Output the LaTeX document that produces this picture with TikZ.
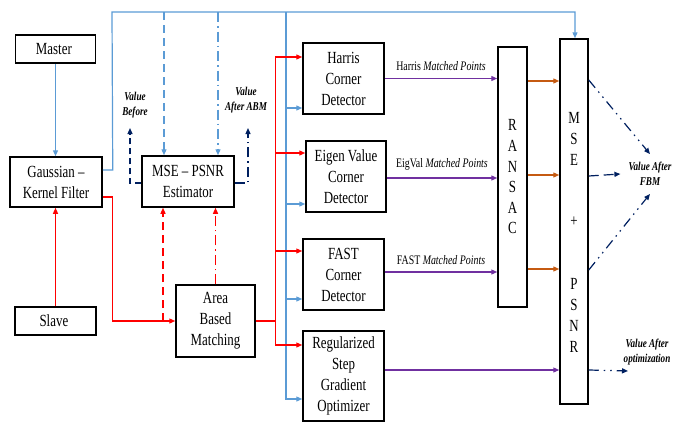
\documentclass[tikz,border=0pt]{standalone}
\usepackage{fontspec}
\setmainfont{Liberation Serif}[FakeStretch=0.76]
\usetikzlibrary{arrows.meta}
\definecolor{lblue}{RGB}{91,155,213}
\definecolor{navy}{RGB}{0,32,96}
\definecolor{purp}{RGB}{112,48,160}
\definecolor{orng}{RGB}{197,90,17}

\begin{document}
\begin{tikzpicture}[x=1pt, y=-1pt,
    >={Triangle[length=6pt,width=5pt]},
    box/.style={
        rectangle,
        draw,
        line width=1.5pt,
        align=center,
        inner sep=0pt,
        fill=white,
        font=\fontsize{17}{21}\selectfont
    },
    lbl/.style={align=center, inner sep=1pt, font=\fontsize{12}{15}\selectfont\bfseries\itshape},
    ptlbl/.style={text=black, inner sep=2pt, font=\fontsize{13}{14}\selectfont},
    wire/.style={line width=1.2pt},
    dashdot/.style={dash pattern=on 10pt off 4pt on 1.5pt off 4pt},
    dashdotdot/.style={dash pattern=on 10pt off 5pt on 1.5pt off 5pt on 1.5pt off 5pt}
]
    \useasboundingbox (0,0) rectangle (673,423);

    \node (master) [box, minimum width=80, minimum height=28, shift={(55.5,49)}]
    {
        Master
    };
    \node (gauss) [box, minimum width=92, minimum height=50, shift={(56,182)}]
    {
        Gaussian --\\Kernel Filter
    };
    \node (slave) [box, minimum width=81, minimum height=28, shift={(55.5,321)}]
    {
        Slave
    };
    \node (est) [box, minimum width=92, minimum height=51, shift={(188,181.5)}]
    {
        MSE -- PSNR\\Estimator
    };
    \node (area) [box, minimum width=79, minimum height=72, shift={(215.5,321)}]
    {
        Area\\Based\\Matching
    };

    \node (harris) [box, minimum width=81, minimum height=71, shift={(343.5,78.5)}]
    {
        Harris\\Corner\\Detector
    };
    \node (eigen) [box, minimum width=80, minimum height=71, shift={(346,176.5)}]
    {
        Eigen Value\\Corner\\Detector
    };
    \node (fast) [box, minimum width=81, minimum height=71, shift={(343.5,274.5)}]
    {
        FAST\\Corner\\Detector
    };
    \node (reg) [box, minimum width=81, minimum height=90, shift={(343.5,376)}]
    {
        Regularized\\Step\\Gradient\\Optimizer
    };

    \node (ransac) [box, minimum width=29, minimum height=260, font=\fontsize{17}{20.6}\selectfont, shift={(512.5,177)}]
    {
        R\\A\\N\\S\\A\\C
    };
    \node (mseall) [box, minimum width=28, minimum height=365, shift={(574,221.5)}] {};
    \node (mseall_txt) [align=center, inner sep=0pt, font=\fontsize{17}{21}\selectfont, shift={(574,232)}]
    {
        M\\S\\E\\[40pt]+\\[42pt]P\\S\\N\\R
    };

    \node (vbefore) [lbl, shift={(135,105)}] {Value\\Before};
    \node (vafter) [lbl, shift={(246,100)}] {Value\\After ABM};
    \node (fbm) [lbl, inner sep=8pt, shift={(650,174)}] {Value After\\FBM};
    \node (optim) [lbl, shift={(647,352)}] {Value After\\optimization};

    \coordinate (top) at (112,12);
    \coordinate (bus) at (286,12);
    \coordinate (vbtip) at (130,128);
    \coordinate (vatip) at (248,128);
    \coordinate (optend) at (628,371);

    \draw[->, lblue, wire] (master.south) to (master.south |- gauss.north);
    \draw[->, lblue, wire] ([yshift=12pt]gauss.east) -- ++(10,0) -- (top) -| ([xshift=1pt]mseall.north);
    \draw[->, lblue, wire, dash pattern=on 8pt off 5pt] ([xshift=-24pt]est.north |- top) to ([xshift=-24pt]est.north);
    \draw[->, lblue, wire, dashdot] ([xshift=30pt]est.north |- top) to ([xshift=30pt]est.north);
    \draw[->, lblue, wire] (bus) |- ([yshift=-29.5pt]harris.west);
    \draw[->, lblue, wire] (bus) |- ([yshift=-27.5pt]eigen.west);
    \draw[->, lblue, wire] (bus) |- ([yshift=-24.5pt]fast.west);
    \draw[->, lblue, wire] (bus) |- ([yshift=-23pt]reg.west);

    \draw[->, red, wire] (slave.north) to (slave.north |- gauss.south);
    \draw[->, red, wire] ([yshift=-15pt]gauss.east) -- ++(10,0) |- (area.west);
    \draw[->, red, wire, dash pattern=on 8pt off 5pt] ([xshift=-25pt]est.south |- area.west) to ([xshift=-25pt]est.south);
    \draw[->, red, wire, dashdot] (area.north) to (area.north |- est.south);
    \draw[->, red, wire] (area.east) -- ++(20,0) |- ([yshift=21.5pt]harris.west);
    \draw[->, red, wire] (area.east) -- ++(20,0) |- ([yshift=23.5pt]eigen.west);
    \draw[->, red, wire] (area.east) -- ++(20,0) |- ([yshift=23.5pt]fast.west);
    \draw[->, red, wire] (area.east) -- ++(20,0) |- ([yshift=31pt]reg.west);

    \draw[->, navy, wire, dash pattern=on 6pt off 4pt] ([yshift=-1.5pt]est.west) -| (vbtip);
    \draw[->, navy, wire, dashdot] ([yshift=-1.5pt]est.east) -| (vatip);

    \draw[->, purp, wire] (harris.east) --
        node [ptlbl, above=5pt] {Harris \textit{Matched Points}} (harris.east -| ransac.west);
    \draw[->, purp, wire] ([yshift=-1.5pt]eigen.east) --
        node [ptlbl, above=5pt] {EigVal \textit{Matched Points}} ([yshift=-1.5pt]eigen.east -| ransac.west);
    \draw[->, purp, wire] ([yshift=2.5pt]fast.east) --
        node [ptlbl, above=5pt] {FAST \textit{Matched Points}} ([yshift=2.5pt]fast.east -| ransac.west);
    \draw[->, purp, wire] ([yshift=6pt]reg.east) to ([yshift=6pt]reg.east -| mseall.west);

    \draw[->, orng, wire] ([yshift=96pt]ransac.east) to ([yshift=96pt]ransac.east -| mseall.west);
    \draw[->, orng, wire] ([yshift=2pt]ransac.east) to ([yshift=2pt]ransac.east -| mseall.west);
    \draw[->, orng, wire] ([yshift=-92pt]ransac.east) to ([yshift=-92pt]ransac.east -| mseall.west);

    \draw[->, navy, wire, dashdotdot] ([yshift=141.5pt]mseall.east) to (fbm.north);
    \draw[->, navy, wire, dash pattern=on 10pt off 5pt] ([yshift=45.5pt]mseall.east) to (fbm.west);
    \draw[->, navy, wire, dashdotdot] ([yshift=-48.5pt]mseall.east) to (fbm.south);
    \draw[->, navy, wire, dashdotdot] ([yshift=-148.5pt]mseall.east) to (optend);
\end{tikzpicture}
\end{document}
